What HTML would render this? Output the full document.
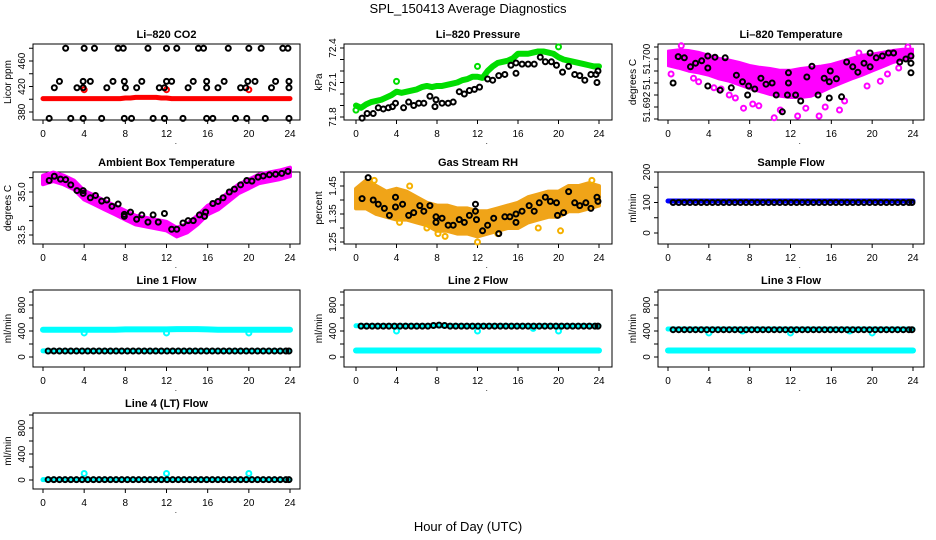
<!DOCTYPE html>
<html><head><meta charset="utf-8"><style>
html,body{margin:0;padding:0;background:#fff;}
svg{display:block;font-family:"Liberation Sans",sans-serif;}
</style></head><body>
<svg id="c" width="936" height="540" viewBox="0 0 936 540" xmlns="http://www.w3.org/2000/svg">
<text x="468" y="13" text-anchor="middle" font-size="13">SPL_150413  Average Diagnostics</text>
<text x="468" y="531" text-anchor="middle" font-size="13">Hour of Day (UTC)</text>
</svg>
<script>
// ---- data ----
const xTicks = [0,4,8,12,16,20,24];
const bandHours = [0,1,2,3,4,5,6,7,8,9,10,11,12,13,14,15,16,17,18,19,20,21,22,23,24];
const halfHours = [0,0.5,1,1.5,2,2.5,3,3.5,4,4.5,5,5.5,6,6.5,7,7.5,8,8.5,9,9.5,10,10.5,11,11.5,12,12.5,13,13.5,14,14.5,15,15.5,16,16.5,17,17.5,18,18.5,19,19.5,20,20.5,21,21.5,22,22.5,23,23.5,24];
const flowT = [0.5,1.05,1.6,2.15,2.7,3.25,3.8,4.35,4.9,5.45,6,6.55,7.1,7.65,8.2,8.75,9.3,9.85,10.4,10.95,11.5,12.05,12.6,13.15,13.7,14.25,14.8,15.35,15.9,16.45,17,17.55,18.1,18.65,19.2,19.75,20.3,20.85,21.4,21.95,22.5,23.05,23.6,23.9];

// CO2
const co2Red = [401,401,401,401,401,401,401,401,401,401,401,401,401,401,401,401,402,402,403,403,403,403,403,402,402,401,401,401,401,401,401,401,401,401,401,401,401,401,401,401,401,401,401,401,401,401,401,401,401];
const co2BlackT = [2.2,4,5,7.3,7.8,10.2,12,13,15.1,15.6,18,20,21.2,23.3,23.8, 1.6,3.9,4.6,6.8,7.9,9.6,12,12.5,14.6,15.9,17.6,19.9,20.6,22.6,23.9, 1.1,3.3,3.9,6.2,8,9.1,11.3,11.8,14.1,15.9,17,19.2,19.7,22.2,23.9, 0.6,2.7,3.9,5.7,7.9,8.6,10.7,11.8,13.6,15.9,16.5,18.7,19.8,21.6,23.9];
const co2BlackV = [480,480,480,480,480,480,480,480,480,480,480,480,480,480,480, 428,428,428,428,428,428,428,428,428,428,428,428,428,428,428, 418,418,418,418,418,418,418,418,418,418,418,418,418,418,418, 370,370,370,370,370,370,370,370,370,370,370,370,370,370,370];
const co2RedOutT = [4,12,20];
const co2RedOutV = [415,415,415];

// Pressure
const presGreen = [71.9,71.88,71.91,71.93,71.94,71.95,71.97,71.99,72.02,72.01,72.02,72.03,72.04,72.06,72.07,72.06,72.07,72.07,72.08,72.09,72.1,72.12,72.13,72.15,72.15,72.14,72.2,72.24,72.27,72.28,72.29,72.31,72.35,72.35,72.35,72.36,72.37,72.37,72.36,72.35,72.32,72.3,72.29,72.28,72.27,72.26,72.25,72.24,72.24];
const presBlackT = [0.6,1.1,1.7,2.2,2.7,3.2,3.6,3.9,4.7,5.2,5.7,6.2,6.7,7.3,7.9,7.8,8.5,9.1,9.6,10.2,10.7,11.2,11.7,12.2,13,13.5,14.1,14.7,15.3,15.8,15.8,16.4,17,17.6,18.2,18.7,19.3,19.8,20.4,21,21.6,22.1,22.6,23.2,23.7,23.8,23.9];
const presBlackV = [71.79,71.83,71.83,71.88,71.87,71.88,71.89,71.92,71.88,71.93,71.9,71.92,71.92,71.98,71.95,71.89,71.92,71.92,71.93,72.02,72.0,72.03,72.04,72.06,72.13,72.12,72.16,72.17,72.25,72.27,72.18,72.26,72.26,72.26,72.32,72.28,72.28,72.25,72.19,72.24,72.17,72.16,72.12,72.17,72.17,72.1,72.2];
const presGreenOutT = [0,4,12,20];
const presGreenOutV = [71.86,72.11,72.24,72.41];

// Li-820 temperature
const tempUpper = [51.7014,51.7016,51.7015,51.7012,51.7007,51.7002,51.6999,51.6995,51.6990,51.6987,51.6985,51.6982,51.6982,51.6985,51.6987,51.6989,51.6992,51.6997,51.7002,51.7007,51.7009,51.7012,51.7015,51.7017,51.7017];
const tempLower = [51.6988,51.6984,51.6979,51.6976,51.6972,51.6966,51.6962,51.6956,51.6950,51.6945,51.6940,51.6937,51.6935,51.6935,51.6937,51.6944,51.6952,51.6959,51.6966,51.6972,51.6979,51.6986,51.6993,51.6998,51.7001];
const tempBlackT = [0.5,1.0,1.6,2.2,2.7,3.3,3.9,3.9,3.9,4.6,5.1,5.6,6.2,6.7,7.3,7.8,7.9,8.5,9.1,9.6,10.2,10.6,11.2,11.7,11.8,11.8,12.5,13,13.6,14.1,14.7,15.3,15.8,15.8,15.9,16.5,17,17.5,18.1,18.6,19.2,19.8,19.8,20.4,21,21.6,22.1,22.7,23.3,23.8,23.8,23.8];
const tempBlackV = [51.6960,51.7004,51.7002,51.6987,51.6993,51.6997,51.7005,51.6985,51.6955,51.7003,51.6948,51.7002,51.6952,51.6973,51.6962,51.6940,51.6955,51.6950,51.6968,51.6958,51.6960,51.6940,51.6912,51.6940,51.6977,51.6960,51.6940,51.6930,51.6970,51.6988,51.6940,51.6968,51.6935,51.6962,51.6980,51.6967,51.6937,51.6995,51.6987,51.6978,51.6993,51.7010,51.6987,51.7002,51.7005,51.7010,51.7010,51.6995,51.7000,51.7005,51.6993,51.6977];
const tempMagOutT = [0.3,1.3,2.5,3.0,4.5,5.2,6.0,6.6,7.4,8.3,8.9,9.9,10.4,11.0,12.7,13.5,14.8,15.4,16.8,17.3,18.7,19.5,20.8,21.5,22.6,23.5];
const tempMagOutV = [51.6975,51.7022,51.6968,51.6962,51.6952,51.6950,51.6940,51.6935,51.6918,51.6925,51.6922,51.6975,51.6902,51.6915,51.6905,51.6918,51.6905,51.6920,51.6915,51.6930,51.7010,51.6955,51.6963,51.6975,51.6985,51.7020];

// Ambient box temperature
const ambMag = [35.42,35.53,35.42,35.25,34.89,34.72,34.54,34.37,34.19,34.02,33.95,33.88,33.81,33.6,33.74,34.02,34.37,34.54,34.82,35.11,35.28,35.46,35.53,35.6,35.7];
const ambBlackT = [0.6,1.1,1.7,2.2,2.7,3.3,3.9,3.9,4.6,5.1,5.7,6.2,6.7,7.3,7.9,7.9,8.5,9.1,9.6,10.2,10.7,11.2,11.8,12.5,13,13.6,14.1,14.6,15.2,15.7,15.8,16.5,17,17.5,18.1,18.6,19.2,19.8,20.3,20.9,21.4,22,22.6,23.2,23.8];
const ambBlackV = [35.4,35.55,35.45,35.43,35.25,35.05,34.95,35.05,34.8,34.88,34.68,34.72,34.5,34.58,34.22,34.15,34.3,34.05,34.2,33.95,34.2,33.95,34.25,33.7,33.7,33.92,34.0,34.0,34.2,34.15,34.3,34.6,34.67,34.8,35.0,35.1,35.25,35.4,35.38,35.52,35.56,35.6,35.62,35.65,35.72];

// Gas stream RH
const rhUpper = [1.44,1.47,1.45,1.43,1.44,1.43,1.41,1.39,1.38,1.38,1.37,1.37,1.36,1.36,1.37,1.38,1.39,1.41,1.42,1.43,1.43,1.45,1.45,1.46,1.45];
const rhLower = [1.37,1.37,1.35,1.34,1.33,1.33,1.32,1.31,1.29,1.29,1.28,1.28,1.27,1.28,1.29,1.30,1.30,1.32,1.33,1.34,1.34,1.36,1.36,1.37,1.38];
const rhBlackT = [0.6,1.2,1.7,2.2,2.8,3.3,3.9,3.9,4.6,5.2,5.7,6.3,6.7,7.3,7.9,7.9,8.5,9.1,9.6,10.2,10.7,11.2,11.8,11.8,11.9,12.5,13,13.6,14.1,14.7,15.2,15.8,15.8,16.4,17.1,17.6,18.1,18.7,19.2,19.8,19.9,20.5,21,21.6,22.1,22.7,23.2,23.8,23.9];
const rhBlackV = [1.405,1.48,1.4,1.385,1.37,1.345,1.41,1.375,1.385,1.345,1.355,1.38,1.36,1.38,1.34,1.32,1.335,1.31,1.31,1.33,1.32,1.345,1.385,1.36,1.33,1.29,1.31,1.335,1.28,1.34,1.34,1.32,1.35,1.36,1.38,1.36,1.39,1.41,1.395,1.39,1.345,1.355,1.43,1.39,1.38,1.39,1.37,1.41,1.395];
const rhOutT = [1.8,4.3,5.3,7.0,8.1,8.8,12.0,14.0,18.0,20.2,23.3];
const rhOutV = [1.47,1.32,1.45,1.30,1.28,1.27,1.25,1.28,1.30,1.29,1.47];

// Flows
const sampleBlue = [105,105,105,105,105,105,105,105,105,105,105,105,105,105,105,105,105,105,105,105,105,105,105,105,105];
const sampleBlack = [100,100,100,100,100,100,100,100,100,100,100,100,100,100,100,100,100,100,100,100,100,100,100,100,100,100,100,100,100,100,100,100,100,100,100,100,100,100,100,100,100,100,100,100];
const line1CyanHigh = [420,420,420,420,420,420,420,420,425,425,425,425,425,428,428,428,425,420,420,420,420,420,420,420,420];
const line1CyanLow = [95,95,95,95,95,95,95,95,95,95,95,95,95,95,95,95,95,95,95,95,95,95,95,95,95];
const line1Black = [92,92,92,92,92,92,92,92,92,92,92,92,92,92,92,92,92,92,92,92,92,92,92,92,92,92,92,92,92,92,92,92,92,92,92,92,92,92,92,92,92,92,92,92];
const line1OutT = [4,12,20];
const line1OutV = [370,370,370];
const line2CyanHigh = [480,480,480,480,480,480,480,480,480,480,480,480,480,480,480,480,480,480,480,480,480,480,480,480,480];
const line2CyanLow = [100,100,100,100,100,100,100,100,100,100,100,100,100,100,100,100,100,100,100,100,100,100,100,100,100];
const line2Black = [475,475,475,475,475,475,475,475,475,475,475,475,475,485,490,485,475,475,475,475,475,475,475,475,475,475,475,475,475,475,475,475,475,475,475,475,475,475,475,475,475,475,475,475];
const line2OutT = [4,12,20,17.5];
const line2OutV = [400,400,400,440];
const line3CyanHigh = [430,430,430,430,430,430,430,430,430,430,430,430,430,430,430,430,430,430,430,430,430,430,430,430,430];
const line3CyanLow = [100,100,100,100,100,100,100,100,100,100,100,100,100,100,100,100,100,100,100,100,100,100,100,100,100];
const line3Black = [420,420,420,420,420,420,420,420,420,420,420,420,420,420,420,420,420,420,420,420,420,420,420,420,420,420,420,420,420,420,420,420,420,420,420,420,420,420,420,420,420,420,420,420];
const line3OutT = [4,12,20,7.3,17.8];
const line3OutV = [370,370,370,400,400];
const line4Cyan = [5,5,5,5,5,5,5,5,5,5,5,5,5,5,5,5,5,5,5,5,5,5,5,5,5];
const line4Black = [5,5,5,5,5,5,5,5,5,5,5,5,5,5,5,5,5,5,5,5,5,5,5,5,5,5,5,5,5,5,5,5,5,5,5,5,5,5,5,5,5,5,5,5];
const line4OutT = [4,12,20];
const line4OutV = [100,100,100];

// ---- drawing ----
const NS = "http://www.w3.org/2000/svg";
const svg = document.getElementById('c');
function mk(tag, parent){ const e = document.createElementNS(NS, tag); parent.appendChild(e); return e; }
function lin(v0,p0,v1,p1){ return v => p0 + (v - v0) * (p1 - p0) / (v1 - v0); }

function panel(o){
  const g = mk('g', svg);
  
  
  const sx = lin(0, o.x0, 24, o.x24);
  const sy = lin(o.va, o.pa, o.vb, o.pb);
  const t = mk('text', g);
  
  
  t.setAttribute('x', (o.bl + o.br) / 2); t.setAttribute('y', o.bt - 6);
  t.setAttribute('text-anchor', 'middle'); t.setAttribute('font-size', '11'); t.setAttribute('font-weight', 'bold');
  t.textContent = o.title;
  const box = mk('rect', g);
  
  
  box.setAttribute('x', o.bl); box.setAttribute('y', o.bt); box.setAttribute('width', o.br - o.bl); box.setAttribute('height', o.bb - o.bt);
  box.setAttribute('fill', 'none'); box.setAttribute('stroke', '#000'); box.setAttribute('stroke-width', '1');
  xTicks.forEach(v => {
    const x = sx(v);
    const l = mk('line', g);
    
    
    l.setAttribute('x1', x); l.setAttribute('x2', x); l.setAttribute('y1', o.bb); l.setAttribute('y2', o.bb + 4); l.setAttribute('stroke', '#000');
    const tx = mk('text', g);
    
    
    tx.setAttribute('x', x); tx.setAttribute('y', o.bb + 17); tx.setAttribute('text-anchor', 'middle'); tx.setAttribute('font-size', '10');
    tx.textContent = v;
  });
  const dot = mk('text', g);
  
  
  dot.setAttribute('x', sx(12.8)); dot.setAttribute('y', o.bb + 24); dot.setAttribute('font-size', '8'); dot.textContent = '.';
  o.yTicks.forEach(v => {
    const y = sy(v);
    if (y < o.bt - 3 || y > o.bb + 1) return;
    const l = mk('line', g);
    
    
    l.setAttribute('x1', o.bl - 4); l.setAttribute('x2', o.bl); l.setAttribute('y1', y); l.setAttribute('y2', y); l.setAttribute('stroke', '#000');
  });
  o.yLabels.forEach((v, i) => {
    const y = sy(v);
    const tx = mk('text', g);
    
    
    tx.setAttribute('transform', 'translate(' + (o.bl - 8) + ',' + y + ') rotate(-90)');
    tx.setAttribute('text-anchor', 'middle'); tx.setAttribute('font-size', '10');
    tx.textContent = o.yLabelText ? o.yLabelText[i] : v;
  });
  const yt = mk('text', g);
  
  
  yt.setAttribute('transform', 'translate(' + (o.bl - 22) + ',' + ((o.bt + o.bb) / 2) + ') rotate(-90)');
  yt.setAttribute('text-anchor', 'middle'); yt.setAttribute('font-size', '10');
  yt.textContent = o.ylab;
  return {g, sx, sy};
}
function band(P, xs, up, lo, color, name, sw){
  const pts = xs.map((x,i) => P.sx(x) + ',' + P.sy(up[i]));
  for (let i = xs.length - 1; i >= 0; i--) pts.push(P.sx(xs[i]) + ',' + P.sy(lo[i]));
  const p = mk('polygon', P.g);
  
  
  p.setAttribute('points', pts.join(' ')); p.setAttribute('fill', color); p.setAttribute('stroke', color); p.setAttribute('stroke-width', sw || 4); p.setAttribute('stroke-linejoin', 'round');
}
function thick(P, xs, ys, color, w, name){
  const p = mk('polyline', P.g);
  
  
  p.setAttribute('points', xs.map((x,i) => P.sx(x) + ',' + P.sy(ys[i])).join(' '));
  p.setAttribute('fill', 'none'); p.setAttribute('stroke', color); p.setAttribute('stroke-width', w); p.setAttribute('stroke-linecap', 'round'); p.setAttribute('stroke-linejoin', 'round');
}
function pts(P, xs, ys, color, name, sw){
  xs.forEach((x,i) => {
    const c = mk('circle', P.g);
    
    
    c.setAttribute('cx', P.sx(x)); c.setAttribute('cy', P.sy(ys[i])); c.setAttribute('r', '2.5');
    c.setAttribute('fill', 'none'); c.setAttribute('stroke', color); c.setAttribute('stroke-width', sw || 2);
  });
}

const C1 = {bl:33, br:300, x0:43, x24:290};
const C2 = {bl:344, br:612, x0:356, x24:599};
const C3 = {bl:658, br:924, x0:668, x24:913};
const R1 = {bt:44, bb:120}, R2 = {bt:172, bb:244}, R3 = {bt:290, bb:367}, R4 = {bt:413, bb:489};
const flowTicks = [0,200,400,600,800,1000];

// Panel: CO2
let P = panel(Object.assign({name:'panel-li820-co2', title:'Li\u2013820 CO2', ylab:'Licor ppm', va:460, pa:61, vb:380, pb:112, yTicks:[380,400,420,440,460,480], yLabels:[380,420,460]}, C1, R1));
thick(P, halfHours, co2Red, '#ff0000', 5, 'co2-red-series');
pts(P, co2RedOutT, co2RedOutV, '#ff0000', 'co2-red-outlier');
pts(P, co2BlackT, co2BlackV, '#000', 'co2-black-point');

// Pressure
P = panel(Object.assign({name:'panel-li820-pressure', title:'Li\u2013820 Pressure', ylab:'kPa', va:72.4, pa:48, vb:71.8, pb:117, yTicks:[71.8,71.9,72.0,72.1,72.2,72.3,72.4], yLabels:[71.8,72.1,72.4], yLabelText:['71.8','72.1','72.4']}, C2, R1));
thick(P, halfHours, presGreen, '#00dd00', 6, 'pressure-green-series');
pts(P, presGreenOutT, presGreenOutV, '#00dd00', 'pressure-green-outlier');
pts(P, presBlackT, presBlackV, '#000', 'pressure-black-point');

// Temperature
P = panel(Object.assign({name:'panel-li820-temperature', title:'Li\u2013820 Temperature', ylab:'degrees C', va:51.700, pa:59, vb:51.692, pb:107, yTicks:[51.690,51.692,51.694,51.696,51.698,51.700,51.702], yLabels:[51.692,51.696,51.700], yLabelText:['51.692','51.','51.700']}, C3, R1));
band(P, bandHours, tempUpper, tempLower, '#ff00ff', 'temperature-magenta-band', 2);
pts(P, tempMagOutT, tempMagOutV, '#ff00ff', 'temperature-magenta-point', 2);
pts(P, tempBlackT, tempBlackV, '#000', 'temperature-black-point');

// Ambient box
P = panel(Object.assign({name:'panel-ambient-box-temperature', title:'Ambient Box Temperature', ylab:'degrees C', va:35.0, pa:192, vb:33.5, pb:235, yTicks:[33.5,34.0,34.5,35.0,35.5,36.0], yLabels:[33.5,35.0], yLabelText:['33.5','35.0']}, C1, R2));
band(P, bandHours, ambMag.map(v => v + 0.15), ambMag.map(v => v - 0.15), '#ff00ff', 'ambient-magenta-band');
pts(P, ambBlackT, ambBlackV, '#000', 'ambient-black-point');

// Gas stream RH
P = panel(Object.assign({name:'panel-gas-stream-rh', title:'Gas Stream RH', ylab:'percent', va:1.45, pa:186, vb:1.25, pb:242, yTicks:[1.25,1.30,1.35,1.40,1.45,1.50], yLabels:[1.25,1.35,1.45], yLabelText:['1.25','1.35','1.45']}, C2, R2));
band(P, bandHours, rhUpper, rhLower, '#f0a418', 'rh-orange-band');
pts(P, rhOutT, rhOutV, '#f5b000', 'rh-orange-point', 2);
pts(P, rhBlackT, rhBlackV, '#000', 'rh-black-point');

// Sample flow
P = panel(Object.assign({name:'panel-sample-flow', title:'Sample Flow', ylab:'ml/min', va:0, pa:233, vb:200, pb:172, yTicks:[0,50,100,150,200], yLabels:[0,100,200]}, C3, R2));
thick(P, bandHours, sampleBlue, '#0000ff', 5, 'sample-blue-series');
pts(P, flowT, sampleBlack, '#000', 'sample-black-point');

// Line 1
P = panel(Object.assign({name:'panel-line1-flow', title:'Line 1 Flow', ylab:'ml/min', va:0, pa:357, vb:800, pb:305, yTicks:flowTicks, yLabels:[0,400,800]}, C1, R3));
thick(P, bandHours, line1CyanHigh, '#00ffff', 6, 'line1-cyan-high');
thick(P, bandHours, line1CyanLow, '#00ffff', 5, 'line1-cyan-low');
pts(P, line1OutT, line1OutV, '#00ffff', 'line1-cyan-outlier', 2);
pts(P, flowT, line1Black, '#000', 'line1-black-point');

// Line 2
P = panel(Object.assign({name:'panel-line2-flow', title:'Line 2 Flow', ylab:'ml/min', va:0, pa:357, vb:800, pb:305, yTicks:flowTicks, yLabels:[0,400,800]}, C2, R3));
thick(P, bandHours, line2CyanHigh, '#00ffff', 5, 'line2-cyan-high');
thick(P, bandHours, line2CyanLow, '#00ffff', 6, 'line2-cyan-low');
pts(P, line2OutT, line2OutV, '#00ffff', 'line2-cyan-outlier', 2);
pts(P, flowT, line2Black, '#000', 'line2-black-point');

// Line 3
P = panel(Object.assign({name:'panel-line3-flow', title:'Line 3 Flow', ylab:'ml/min', va:0, pa:357, vb:800, pb:305, yTicks:flowTicks, yLabels:[0,400,800]}, C3, R3));
thick(P, bandHours, line3CyanHigh, '#00ffff', 5, 'line3-cyan-high');
thick(P, bandHours, line3CyanLow, '#00ffff', 6, 'line3-cyan-low');
pts(P, line3OutT, line3OutV, '#00ffff', 'line3-cyan-outlier', 2);
pts(P, flowT, line3Black, '#000', 'line3-black-point');

// Line 4
P = panel(Object.assign({name:'panel-line4-lt-flow', title:'Line 4 (LT) Flow', ylab:'ml/min', va:0, pa:480, vb:800, pb:428, yTicks:flowTicks, yLabels:[0,400,800]}, C1, R4));
thick(P, bandHours, line4Cyan, '#00ffff', 5, 'line4-cyan-series');
pts(P, line4OutT, line4OutV, '#00ffff', 'line4-cyan-outlier', 2);
pts(P, flowT, line4Black, '#000', 'line4-black-point');
</script>
</body></html>
